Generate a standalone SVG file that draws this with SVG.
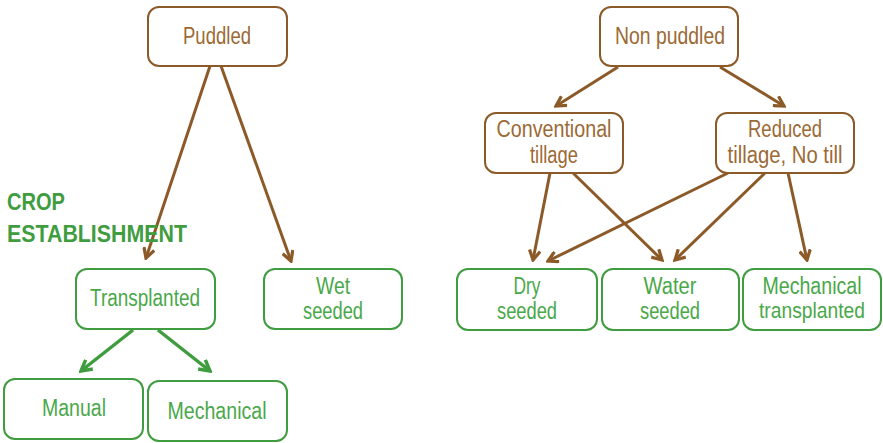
<svg xmlns="http://www.w3.org/2000/svg" width="883" height="443" viewBox="0 0 883 443">
<defs>
<style>
.bb{fill:#fff;stroke:#8C5A28;stroke-width:2}
.gb{fill:#fff;stroke:#3F9C3F;stroke-width:2}
.bt{fill:#9B6A35;font-family:"Liberation Sans",Arial,sans-serif;font-size:23.5px;text-anchor:middle}
.gt{fill:#4AA84A;font-family:"Liberation Sans",Arial,sans-serif;font-size:23.5px;text-anchor:middle}
.ba{stroke:#8C5A28;stroke-width:3;fill:none;marker-end:url(#mb)}
.ga{stroke:#3F9C3F;stroke-width:3.5;fill:none;marker-end:url(#mg)}
.title{fill:#3F9C3F;font-family:"Liberation Sans",Arial,sans-serif;font-size:24px;font-weight:bold}
</style>
<marker id="mb" viewBox="0 0 12 12" refX="10" refY="6" markerWidth="13" markerHeight="13" markerUnits="userSpaceOnUse" orient="auto">
<path d="M1,1 L10,6 L1,11" fill="none" stroke="#8C5A28" stroke-width="3"/>
</marker>
<marker id="mg" viewBox="0 0 12 12" refX="10" refY="6" markerWidth="14" markerHeight="14" markerUnits="userSpaceOnUse" orient="auto">
<path d="M1,1 L10,6 L1,11" fill="none" stroke="#3F9C3F" stroke-width="3"/>
</marker>
</defs>
<rect width="883" height="443" fill="#fff"/>
<g id="connectors">
<line class="ba" x1="210" y1="66" x2="146" y2="258"/>
<line class="ba" x1="221" y1="66" x2="291" y2="261"/>
<line class="ba" x1="618" y1="67" x2="556" y2="106"/>
<line class="ba" x1="720" y1="67" x2="784" y2="106"/>
<line class="ba" x1="550" y1="173" x2="533" y2="260"/>
<line class="ba" x1="573" y1="173" x2="662" y2="260"/>
<line class="ba" x1="728" y1="173" x2="548" y2="261"/>
<line class="ba" x1="765" y1="173" x2="675" y2="260"/>
<line class="ba" x1="788" y1="173" x2="807" y2="260"/>
<line class="ga" x1="133" y1="330" x2="81" y2="371"/>
<line class="ga" x1="158" y1="330" x2="210" y2="371"/>
</g>
<g id="title">
<text class="title" x="7" y="210" textLength="58" lengthAdjust="spacingAndGlyphs">CROP</text>
<text class="title" x="7" y="242" textLength="180" lengthAdjust="spacingAndGlyphs">ESTABLISHMENT</text>
</g>
<g id="puddled">
<rect class="bb" x="148" y="7" width="139" height="59" rx="11"/>
<text class="bt" x="217" y="44" textLength="68" lengthAdjust="spacingAndGlyphs">Puddled</text>
</g>
<g id="nonpuddled">
<rect class="bb" x="600" y="7" width="138" height="59" rx="11"/>
<text class="bt" x="670" y="44" textLength="110" lengthAdjust="spacingAndGlyphs">Non puddled</text>
</g>
<g id="conventional">
<rect class="bb" x="485" y="113" width="138" height="60" rx="11"/>
<text class="bt" x="554" y="137" textLength="115" lengthAdjust="spacingAndGlyphs">Conventional</text>
<text class="bt" x="554" y="163" textLength="48" lengthAdjust="spacingAndGlyphs">tillage</text>
</g>
<g id="reduced">
<rect class="bb" x="716" y="113" width="138" height="60" rx="11"/>
<text class="bt" x="785" y="137" textLength="74" lengthAdjust="spacingAndGlyphs">Reduced</text>
<text class="bt" x="785" y="163" textLength="115" lengthAdjust="spacingAndGlyphs">tillage, No till</text>
</g>
<g id="transplanted">
<rect class="gb" x="76" y="269" width="139" height="60" rx="11"/>
<text class="gt" x="145" y="306" textLength="110" lengthAdjust="spacingAndGlyphs">Transplanted</text>
</g>
<g id="wetseeded">
<rect class="gb" x="264" y="269" width="138" height="60" rx="11"/>
<text class="gt" x="333" y="294" textLength="34" lengthAdjust="spacingAndGlyphs">Wet</text>
<text class="gt" x="333" y="319" textLength="60" lengthAdjust="spacingAndGlyphs">seeded</text>
</g>
<g id="dryseeded">
<rect class="gb" x="457" y="269" width="140" height="61" rx="11"/>
<text class="gt" x="527" y="294" textLength="27" lengthAdjust="spacingAndGlyphs">Dry</text>
<text class="gt" x="527" y="319" textLength="60" lengthAdjust="spacingAndGlyphs">seeded</text>
</g>
<g id="waterseeded">
<rect class="gb" x="602" y="269" width="137" height="61" rx="11"/>
<text class="gt" x="670" y="294" textLength="53" lengthAdjust="spacingAndGlyphs">Water</text>
<text class="gt" x="670" y="319" textLength="60" lengthAdjust="spacingAndGlyphs">seeded</text>
</g>
<g id="mechtransplanted">
<rect class="gb" x="743" y="269" width="138" height="61" rx="11"/>
<text class="gt" x="812" y="294" textLength="99" lengthAdjust="spacingAndGlyphs">Mechanical</text>
<text class="gt" x="812" y="318" style="font-size:22px" textLength="106" lengthAdjust="spacingAndGlyphs">transplanted</text>
</g>
<g id="manual">
<rect class="gb" x="4" y="379" width="139" height="60" rx="11"/>
<text class="gt" x="74" y="416" textLength="64" lengthAdjust="spacingAndGlyphs">Manual</text>
</g>
<g id="mechanical">
<rect class="gb" x="148" y="381" width="139" height="60" rx="11"/>
<text class="gt" x="217" y="419" textLength="99" lengthAdjust="spacingAndGlyphs">Mechanical</text>
</g>
</svg>
